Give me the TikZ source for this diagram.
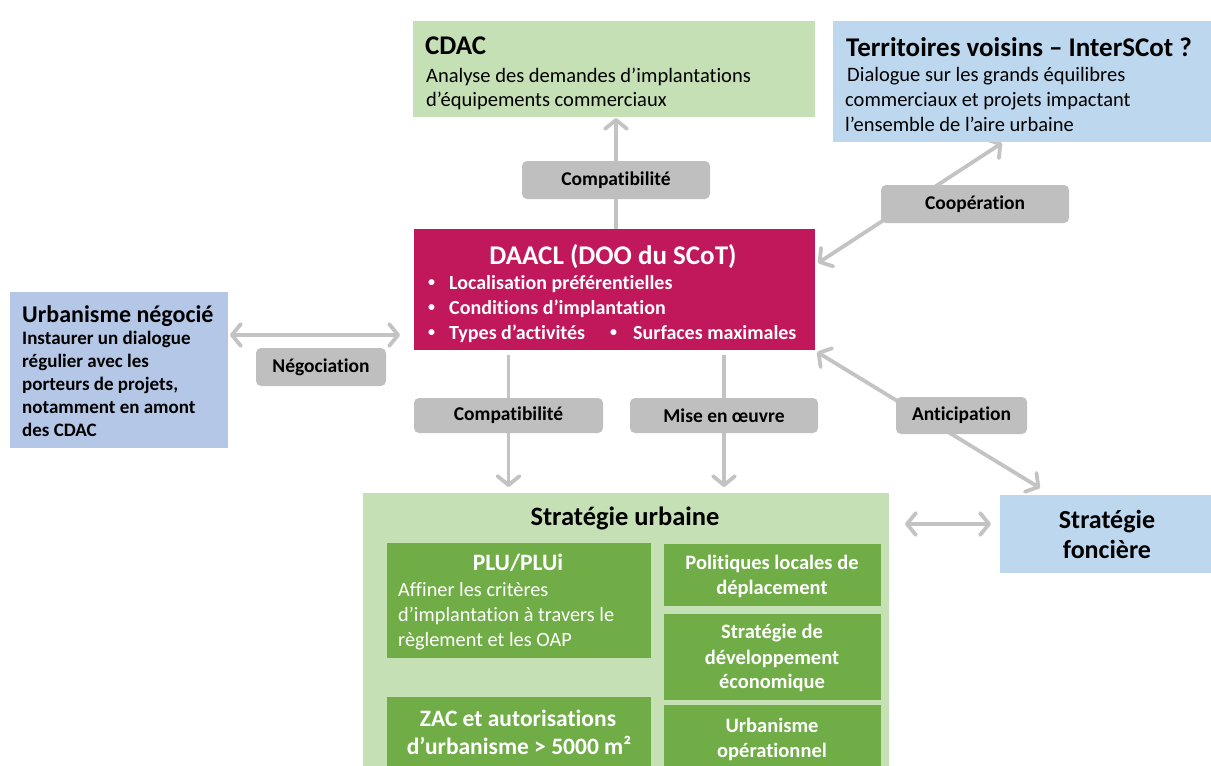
\documentclass[tikz,border=0pt]{standalone}
\usepackage{fontspec}
\setmainfont{Carlito}[Ligatures=NoCommon]
\usetikzlibrary{arrows.meta,calc}
\definecolor{lgreen}{HTML}{C5E0B4}
\definecolor{dgreen}{HTML}{70AD47}
\definecolor{lblue}{HTML}{BDD7EE}
\definecolor{lav}{HTML}{B4C7E7}
\definecolor{mag}{HTML}{C0185A}
\definecolor{lgray}{HTML}{BFBFBF}
\definecolor{agray}{HTML}{C3C3C3}
\newcommand{\myfs}[2]{\fontsize{#1}{#2}\selectfont}
\pgfdeclarelayer{bg}
\pgfsetlayers{bg,main}
\begin{document}
\begin{tikzpicture}[x=1pt,y=-1pt,
 box/.style={anchor=north west, inner sep=0pt, outer sep=0pt},
 lbl/.style={fill=lgray, rounded corners=5pt, inner sep=0pt, font=\myfs{19.5}{23}\bfseries, text=black},
 txt/.style={anchor=base west, inner sep=0pt},
 ctxt/.style={anchor=base, inner sep=0pt},
 arr/.style={draw=agray, line width=3.8pt, -{Straight Barb[length=9pt,width=22pt,round]}},
 darr/.style={draw=agray, line width=3.8pt, {Straight Barb[length=9pt,width=22pt,round]}-{Straight Barb[length=9pt,width=22pt,round]}},
]
\useasboundingbox (0,0) rectangle (1211,766);

% boxes
\node[box, fill=lgreen, minimum width=402pt, minimum height=96pt] (cdac) at (413,21) {};
\node[box, fill=lblue, minimum width=380pt, minimum height=121pt] (terr) at (833,21) {};
\node[box, fill=lav, minimum width=218pt, minimum height=156pt] (un) at (10,292) {};
\node[box, fill=mag, minimum width=401pt, minimum height=121pt] (daacl) at (414,229) {};
\node[box, fill=lgreen, minimum width=526pt, minimum height=280pt] (su) at (363,493) {};
\node[box, fill=dgreen, minimum width=264pt, minimum height=115pt] (plu) at (387,543) {};
\node[box, fill=dgreen, minimum width=264pt, minimum height=75pt] (zac) at (387,697) {};
\node[box, fill=dgreen, minimum width=217pt, minimum height=62pt] (pol) at (664,544) {};
\node[box, fill=dgreen, minimum width=217pt, minimum height=86pt] (sde) at (664,614) {};
\node[box, fill=dgreen, minimum width=217pt, minimum height=70pt] (uop) at (664,705) {};
\node[box, fill=lblue, minimum width=211pt, minimum height=78pt] (fon) at (1000,495) {};

% labels
\node[lbl, minimum width=188pt, minimum height=38pt] (lcomp1) at (616,180) {Compatibilité};
\node[lbl, minimum width=188pt, minimum height=38pt] (lcoop) at (975,204) {Coopération};
\node[lbl, minimum width=130pt, minimum height=38pt] (lneg) at (321,367) {Négociation};
\node[lbl, minimum width=189pt, minimum height=35pt] (lcomp2) at (508.5,415.5) {Compatibilité};
\node[lbl, minimum width=188pt, minimum height=35pt] (lmise) at (724,415.5) {Mise en œuvre};
\node[lbl, minimum width=131pt, minimum height=37pt] (lanti) at (961.5,415.5) {Anticipation};

% connectors
\begin{pgfonlayer}{bg}
\draw[arr] (lcomp1 |- daacl.north) -- ([yshift=-1pt]lcomp1 |- cdac.south);
\draw[arr] ([yshift=-5pt]lcomp2 |- daacl.south) -- ([yshift=6pt]lcomp2 |- su.north);
\draw[arr] ([yshift=-5pt]lmise |- daacl.south) -- ([yshift=6pt]lmise |- su.north);
\draw[darr] ($(daacl.north east)+(3,34)$) -- ($(terr.south west)+(169,1)$);
\draw[darr] ($(daacl.south east)+(2,2)$) -- ($(fon.north west)+(40,-7)$);
\draw[darr] ($(un.north east)+(2,43)$) -- ($(daacl.north west)+(-14,106)$);
\draw[darr] ($(su.north east)+(16,31)$) -- ($(fon.north west)+(-9,29)$);
\end{pgfonlayer}

% CDAC text
\node[txt, font=\myfs{27}{32}\bfseries] (cdact) at (425,54) {CDAC};
\node[txt, font=\myfs{20.5}{25}] (cdacb1) at (426,82) {Analyse des demandes d’implantations};
\node[txt, font=\myfs{20.5}{25}] (cdacb2) at (426,106) {d’équipements commerciaux};

% Territoires text
\node[txt, font=\myfs{27}{32}\bfseries] (terrt) at (846,56) {Territoires voisins – InterSCot ?};
\node[txt, font=\myfs{20.5}{25}] (terrb1) at (847,81) {Dialogue sur les grands équilibres};
\node[txt, font=\myfs{20.5}{25}] (terrb2) at (845,106) {commerciaux et projets impactant};
\node[txt, font=\myfs{20.5}{25}] (terrb3) at (845,131) {l’ensemble de l’aire urbaine};

% Urbanisme negocie text
\node[txt, font=\myfs{24}{28}\bfseries] (unt) at (22,322) {Urbanisme négocié};
\node[txt, font=\myfs{19}{22}\bfseries] (unb1) at (22,344) {Instaurer un dialogue};
\node[txt, font=\myfs{19}{22}\bfseries] (unb2) at (22,367) {régulier avec les};
\node[txt, font=\myfs{19}{22}\bfseries] (unb3) at (22,390) {porteurs de projets,};
\node[txt, font=\myfs{19}{22}\bfseries] (unb4) at (22,413) {notamment en amont};
\node[txt, font=\myfs{19}{22}\bfseries] (unb5) at (22,436) {des CDAC};

% DAACL text
\node[ctxt, text=white, font=\myfs{27}{32}\bfseries] (daaclt) at (613,264) {DAACL (DOO du SCoT)};
\begin{scope}[every node/.style={text=white, font=\myfs{20}{24}\bfseries}]
\node[txt, font=\myfs{14}{16}\bfseries] (db1) at (428,286) {•};
\node[txt] (dt1) at (449,289) {Localisation préférentielles};
\node[txt, font=\myfs{14}{16}\bfseries] (db2) at (428,311) {•};
\node[txt] (dt2) at (449,314) {Conditions d’implantation};
\node[txt, font=\myfs{14}{16}\bfseries] (db3) at (428,336) {•};
\node[txt] (dt3) at (449,339) {Types d’activités};
\node[txt, font=\myfs{14}{16}\bfseries] (db4) at (610,336) {•};
\node[txt] (dt4) at (633,339) {Surfaces maximales};
\end{scope}

% Strategie urbaine text
\node[ctxt, font=\myfs{26.5}{30}\bfseries] (sut) at (625,525) {Stratégie urbaine};
\node[ctxt, text=white, font=\myfs{23.5}{28}\bfseries] (plut) at (518,570) {PLU/PLUi};
\node[txt, text=white, font=\myfs{20.3}{24}] (plub1) at (398,596) {Affiner les critères};
\node[txt, text=white, font=\myfs{20.3}{24}] (plub2) at (398,621) {d’implantation à travers le};
\node[txt, text=white, font=\myfs{20.3}{24}] (plub3) at (398,646) {règlement et les OAP};
\node[ctxt, text=white, font=\myfs{23.5}{28}\bfseries] (zac1) at (518,726) {ZAC et autorisations};
\node[ctxt, text=white, font=\myfs{23.5}{28}\bfseries] (zac2) at (519,754) {d’urbanisme > 5000 m²};
\begin{scope}[every node/.style={ctxt, text=white, font=\myfs{20.5}{24}\bfseries}]
\node (pol1) at (772,569) {Politiques locales de};
\node (pol2) at (772,594) {déplacement};
\node (sde1) at (772,638) {Stratégie de};
\node (sde2) at (772,664) {développement};
\node (sde3) at (772,688) {économique};
\node (uop1) at (772,732) {Urbanisme};
\node (uop2) at (772,757) {opérationnel};
\end{scope}

% Strategie fonciere text
\node[ctxt, font=\myfs{26}{30}\bfseries] (fon1) at (1107,528) {Stratégie};
\node[ctxt, font=\myfs{26}{30}\bfseries] (fon2) at (1107,558) {foncière};
\end{tikzpicture}
\end{document}
